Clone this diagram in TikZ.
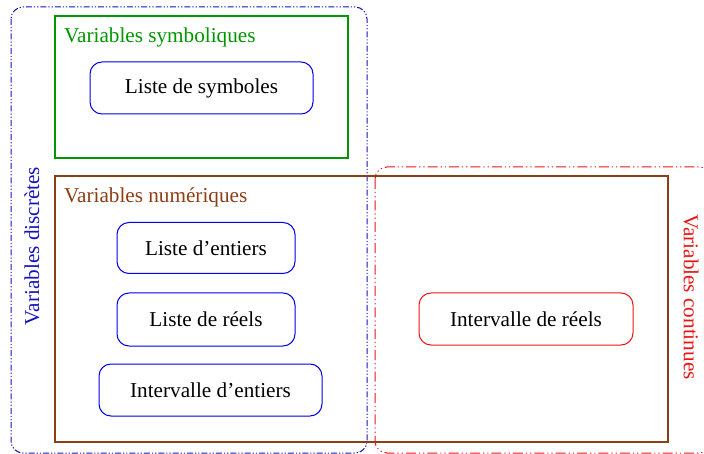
\documentclass[tikz,border=0pt]{standalone}
\usepackage{fontspec}
\setmainfont{Liberation Serif}
\begin{document}
\begin{tikzpicture}[x=1pt,y=-1pt,
  every node/.style={font=\fontsize{21.2}{25}\selectfont},
  itembox/.style={draw=blue!90!black, line width=1pt, rounded corners=12pt, fill=white, minimum height=52pt, align=center, inner sep=0pt},
  groupbox/.style={line width=2pt},
  grouplabel/.style={anchor=west, inner sep=0pt}
]
\useasboundingbox (0,0) rectangle (704,454);
\definecolor{mygreen}{RGB}{0,150,0}
\definecolor{mybrown}{RGB}{140,62,20}
\definecolor{myblue}{RGB}{20,20,190}
\definecolor{myred}{RGB}{235,20,20}
% dashed outer groups
\draw[myblue, line width=1pt, rounded corners=12pt, dash pattern=on 6pt off 2pt on 1.2pt off 2pt on 1.2pt off 2pt] (11,7) rectangle (367,453);
\draw[myred, line width=1pt, rounded corners=12pt, dash pattern=on 10pt off 3pt on 1.2pt off 3pt on 1.2pt off 3pt] (375,167) rectangle (712,453);
% group boxes
\draw[groupbox, mygreen] (55,16) rectangle (348,158);
\draw[groupbox, mybrown] (55,176) rectangle (668,442);
% group labels
\node[grouplabel, text=mygreen] (lsym) at (64,37) {Variables symboliques};
\node[grouplabel, text=mybrown] (lnum) at (64,197) {Variables numériques};
\node[text=myblue, rotate=90, inner sep=0pt] (ldis) at (32,246) {Variables discrètes};
\node[text=myred, rotate=-90, inner sep=0pt] (lcon) at (691,297) {Variables continues};
% items
\node[itembox, minimum width=223pt] (sym) at (201.5,88) {Liste de symboles};
\node[itembox, minimum width=178pt, minimum height=51pt] (ent) at (206,248) {Liste d’entiers};
\node[itembox, minimum width=178pt, minimum height=53pt] (ree) at (206,319.5) {Liste de réels};
\node[itembox, minimum width=223pt] (ient) at (210.5,390) {Intervalle d’entiers};
\node[itembox, draw=myred, minimum width=214pt] (iree) at (526,319) {Intervalle de réels};
\end{tikzpicture}
\end{document}
